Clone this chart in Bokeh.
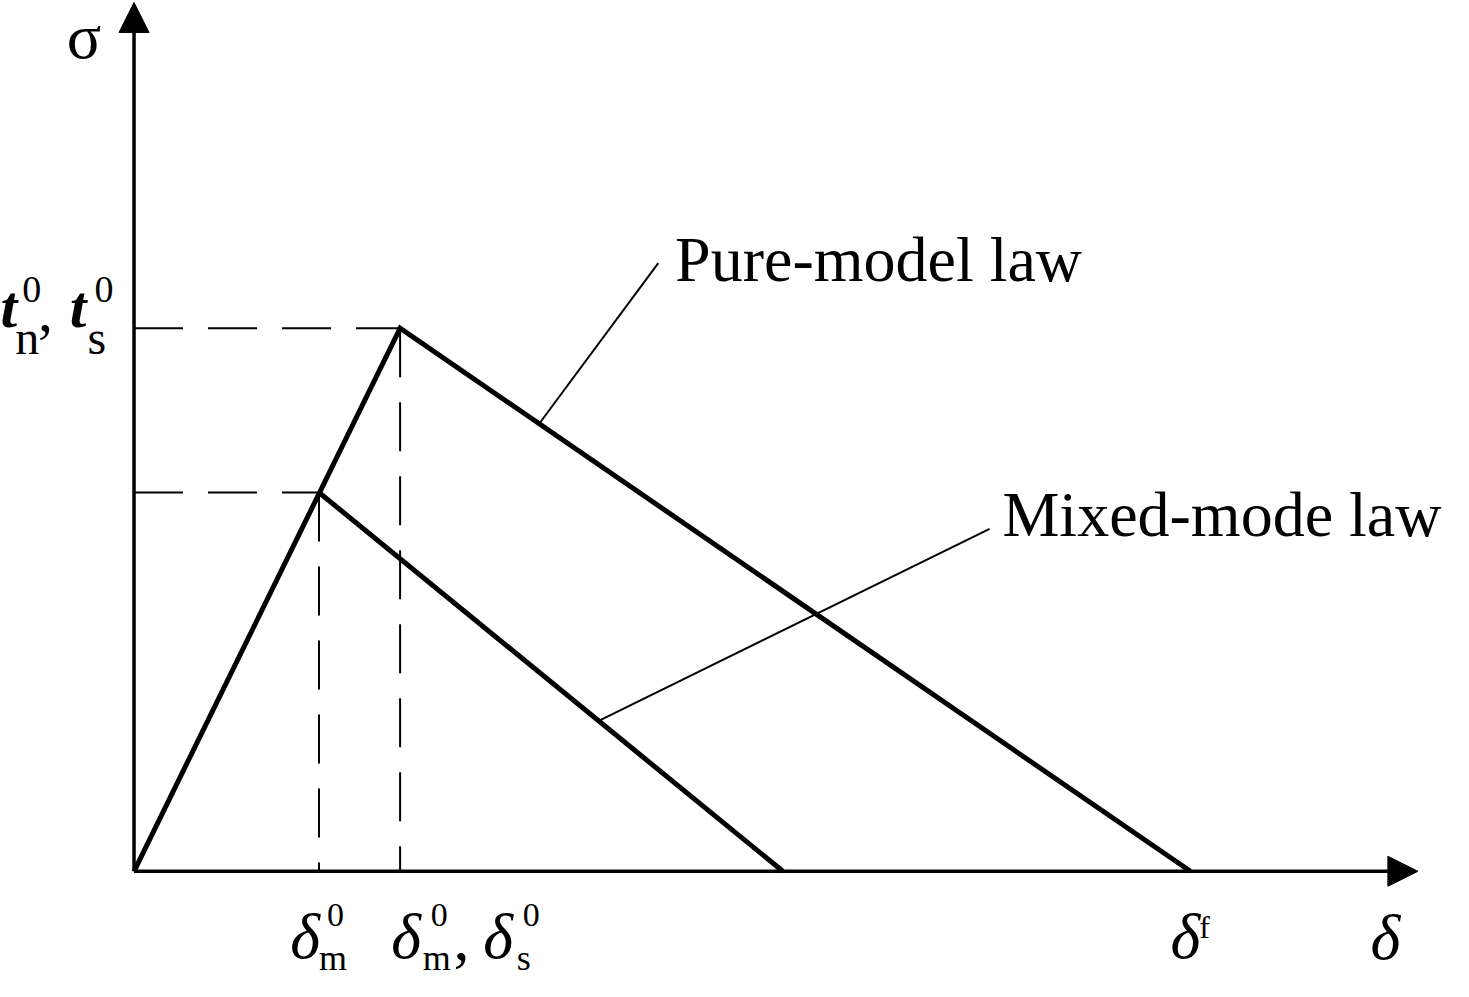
from bokeh.plotting import figure
from bokeh.models import ColumnDataSource, Range1d, Arrow, NormalHead
from bokeh.core.properties import value, field
from bokeh.embed import file_html
from bokeh.resources import INLINE

# separations (arbitrary units)
delta_mix0 = 1.87    # mixed-mode damage onset
delta_pure0 = 2.69   # pure-mode damage onset
delta_mixf = 6.56    # mixed-mode final separation
delta_f = 10.68      # pure-mode final separation

# tractions
t_mix0 = 3.85
t_pure0 = 5.52

# axis lengths
axis_x_end = 12.98
axis_y_end = 8.83

pure_delta = [0.0, delta_pure0, delta_f]
pure_sigma = [0.0, t_pure0, 0.0]
mixed_delta = [delta_mix0, delta_mixf]
mixed_sigma = [t_mix0, 0.0]

curve_names = ["Pure-model law", "Mixed-mode law"]
x_axis_name = "δ"
y_axis_name = "σ"

FONT = value("Liberation Serif")
W, H = 1453, 981
X0, X1 = -1.35, 13.34
Y0, Y1 = -1.12, 8.85
PX_Y = (Y1 - Y0) / H   # data units per screen pixel (vertical)

p = figure(width=W, height=H, output_backend="svg", toolbar_location=None,
           x_range=Range1d(X0, X1), y_range=Range1d(Y0, Y1),
           x_axis_location=None, y_axis_location=None, min_border=0)
p.grid.visible = False
p.outline_line_color = None
p.background_fill_color = "white"

# axes drawn as arrows
head = dict(size=30, fill_color="black", line_color="black")
p.add_layout(Arrow(end=NormalHead(**head), x_start=0, y_start=0,
                   x_end=axis_x_end, y_end=0, line_width=3.5, line_color="black"))
p.add_layout(Arrow(end=NormalHead(**head), x_start=0, y_start=0,
                   x_end=0, y_end=axis_y_end, line_width=3.5, line_color="black"))

# dashed guides
dash = "49 25"
p.line([0, delta_pure0], [t_pure0, t_pure0], line_color="black", line_width=2, line_dash=dash)
p.line([0, delta_mix0], [t_mix0, t_mix0], line_color="black", line_width=2, line_dash=dash)
p.line([delta_pure0, delta_pure0], [t_pure0, 0], line_color="black", line_width=2, line_dash=dash)
p.line([delta_mix0, delta_mix0], [t_mix0, 0], line_color="black", line_width=2, line_dash=dash)

# the two laws
p.line(pure_delta, pure_sigma, line_color="black", line_width=5, line_join="miter")
p.line(mixed_delta, mixed_sigma, line_color="black", line_width=5)

# leader lines from the curves to the names
def along(xs, ys, f):
    return xs[0] + f * (xs[1] - xs[0]), ys[0] + f * (ys[1] - ys[0])

pure_label = (5.47, 5.98)
mixed_label = (8.78, 3.39)
sx, sy = along(pure_delta[1:], pure_sigma[1:], 0.176)
p.line([sx, pure_label[0] - 0.17], [sy, pure_label[1] + 0.20], line_color="black", line_width=2)
sx, sy = along(mixed_delta, mixed_sigma, 0.603)
p.line([sx, mixed_label[0] - 0.13], [sy, mixed_label[1] + 0.09], line_color="black", line_width=2)

# all texts, placed by offsets (reference pixels) from data anchors
txt = dict(x=[], y=[], text=[], size=[], style=[])

def put(ax, ay, dx, dy, s, size, style="normal"):
    # bokeh draws the alphabetic baseline about 0.36em low, so lift it back
    txt["x"].append(ax + dx / 100)
    txt["y"].append(ay - dy / 100 + 0.36 * size * PX_Y)
    txt["text"].append(s)
    txt["size"].append(f"{size}px")
    txt["style"].append(style)

put(pure_label[0], pure_label[1], 0, 0, curve_names[0], 64)
put(mixed_label[0], mixed_label[1], 0, 0, curve_names[1], 64)

# traction labels
put(0, t_pure0, -135, 0, "t", 60, "bold italic")
put(0, t_pure0, -113, -25, "0", 38)
put(0, t_pure0, -120, 27, "n", 48)
put(0, t_pure0, -97, 5, ",", 60)
put(0, t_pure0, -65, 0, "t", 60, "bold italic")
put(0, t_pure0, -40, -25, "0", 38)
put(0, t_pure0, -47, 27, "s", 48)

# separation labels
put(delta_mix0, 0, -29, 90, "δ", 64, "italic")
put(delta_mix0, 0, 8, 57, "0", 34)
put(delta_mix0, 0, 0, 101, "m", 36)

put(delta_pure0, 0, -9, 90, "δ", 64, "italic")
put(delta_pure0, 0, 31, 57, "0", 34)
put(delta_pure0, 0, 23, 101, "m", 36)
put(delta_pure0, 0, 54, 92, ",", 64)
put(delta_pure0, 0, 84, 90, "δ", 64, "italic")
put(delta_pure0, 0, 124, 57, "0", 34)
put(delta_pure0, 0, 118, 101, "s", 36)

put(delta_f, 0, -20, 90, "δ", 64, "italic")
put(delta_f, 0, 9, 68, "f", 32)

# axis names (sigma kept low enough that its box stays on the canvas)
put(axis_x_end, 0, -48, 91, x_axis_name, 64, "italic")
put(0, axis_y_end, -68, 58, y_axis_name, 64)

src = ColumnDataSource(txt)
p.text(x="x", y="y", text="text", source=src, text_font=FONT,
       text_font_size=field("size"), text_font_style=field("style"),
       text_color="black", text_baseline="alphabetic", text_align="left")

open("out.html", "w").write(file_html(p, INLINE))
